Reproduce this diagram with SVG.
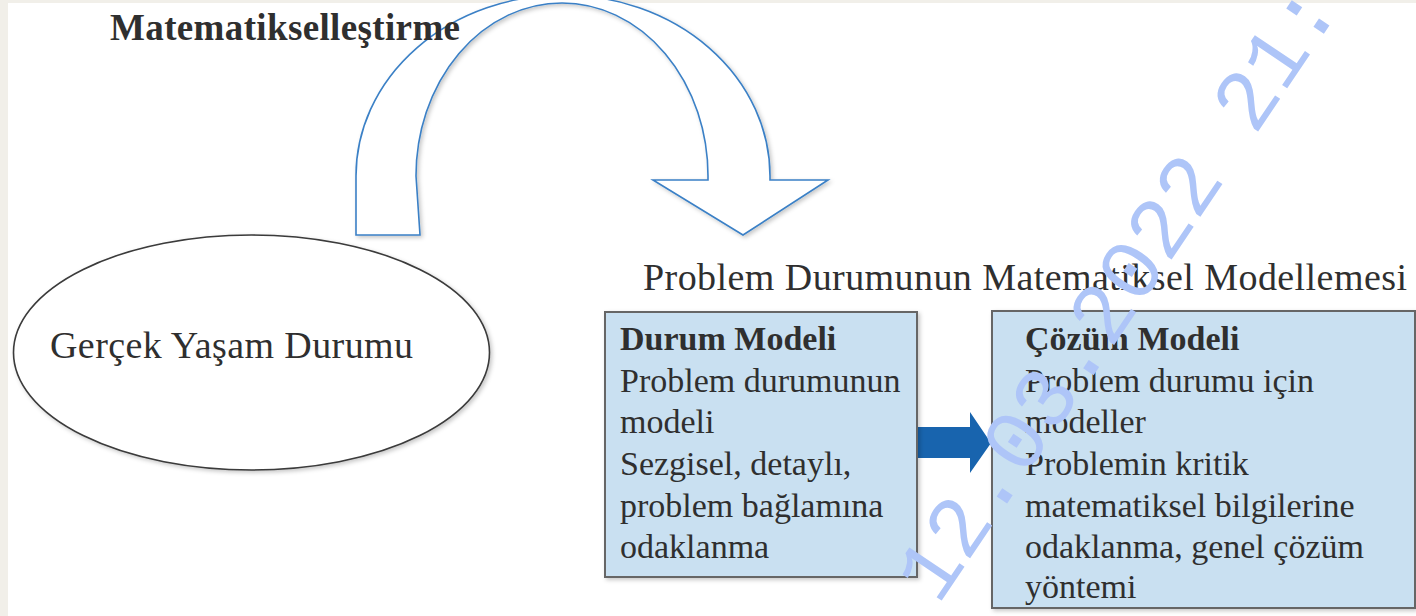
<svg xmlns="http://www.w3.org/2000/svg" width="1416" height="616" viewBox="0 0 1416 616">
  <defs>
    <filter id="sh" x="-10%" y="-10%" width="130%" height="130%">
      <feDropShadow dx="2" dy="2" stdDeviation="2" flood-color="#000" flood-opacity="0.22"/>
    </filter>
    <style>
      .t { font-family: "Liberation Serif", "Times New Roman", serif; fill: #2f2f2f; }
      .b { font-weight: bold; }
      .box { fill: #c9e0f1; stroke: #666; stroke-width: 2; }
      .wm { font-family: "Liberation Mono", "Courier New", monospace; fill: #aec5f8; font-size: 85.8px; }
    </style>
  </defs>
  <rect x="0" y="0" width="1416" height="616" fill="#ffffff"/>
  <rect x="0" y="0" width="1416" height="3" fill="#f1efe9"/>
  <rect x="0" y="0" width="8" height="616" fill="#f1efe9"/>

  <g id="connectors">
    <path id="curved-arrow" filter="url(#sh)" d="M356,235 L356,176 A207,181 0 0 1 770,176 L770,180 L828,180 L743,235 L653,180 L708,180 L708,176 A146,173 0 0 0 416,176 L420,235 Z" fill="#ffffff" stroke="#3b80c6" stroke-width="1.6" stroke-linejoin="miter"/>
    <path id="block-arrow" d="M917,427 L970,427 L970,412 L991,443 L970,473 L970,458 L917,458 Z" fill="#1864ae"/>
  </g>

  <g id="title">
    <text class="t b" x="110" y="40" font-size="37" textLength="350">Matematikselleştirme</text>
  </g>

  <g id="gercek-yasam">
    <ellipse cx="251.5" cy="352.5" rx="238" ry="117.5" fill="#ffffff" stroke="#3a3a3a" stroke-width="1.6" filter="url(#sh)"/>
    <text class="t" x="50" y="358" font-size="38" textLength="363">Gerçek Yaşam Durumu</text>
  </g>

  <g id="header">
    <text class="t" x="643" y="290" font-size="38" textLength="764">Problem Durumunun Matematiksel Modellemesi</text>
  </g>

  <g id="durum-modeli">
    <rect class="box" x="605" y="312" width="312" height="265" filter="url(#sh)"/>
    <text class="t" font-size="34">
      <tspan class="b" x="620" y="350">Durum Modeli</tspan>
      <tspan x="620" y="392">Problem durumunun</tspan>
      <tspan x="620" y="433">modeli</tspan>
      <tspan x="620" y="475">Sezgisel, detaylı,</tspan>
      <tspan x="620" y="517">problem bağlamına</tspan>
      <tspan x="620" y="558">odaklanma</tspan>
    </text>
  </g>

  <g id="cozum-modeli">
    <rect class="box" x="992" y="311" width="423" height="297" filter="url(#sh)"/>
    <text class="t" font-size="34">
      <tspan class="b" x="1025" y="350">Çözüm Modeli</tspan>
      <tspan x="1025" y="392">Problem durumu için</tspan>
      <tspan x="1025" y="433">modeller</tspan>
      <tspan x="1025" y="475">Problemin kritik</tspan>
      <tspan x="1025" y="517">matematiksel bilgilerine</tspan>
      <tspan x="1025" y="558">odaklanma, genel çözüm</tspan>
      <tspan x="1025" y="598">yöntemi</tspan>
    </text>
  </g>

  <g id="watermark">
    <text class="wm" transform="translate(938,606) rotate(-56)" x="0" y="0">12.03.2022 21:</text>
  </g>
</svg>
